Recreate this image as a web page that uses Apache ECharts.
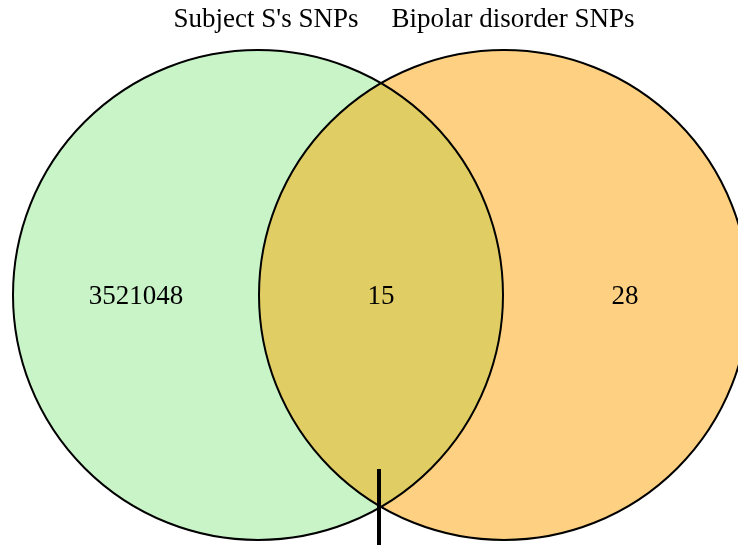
<!DOCTYPE html>
<html>
<head>
<meta charset="utf-8">
<script src="https://cdn.jsdelivr.net/npm/echarts@6/dist/echarts.min.js"></script>
<style>
html, body { margin: 0; padding: 0; background: #fff; }
#venn { width: 738px; height: 545px; }
</style>
</head>
<body>
<div id="venn"></div>
<script>
// sets and region counts
var setNames = ["Subject S's SNPs", "Bipolar disorder SNPs"];
var regionNames = ["left only", "both", "right only"];
var regionCounts = [3521048, 15, 28];

// layout, in the 738 x 545 data space of a hidden cartesian grid
var centersX = [258, 504];
var centerY = 295;
var radius = 245;
var titleX = [266, 513];
var titleY = 20;
var regionX = [136, 381, 625];
var markerX = 379, markerTop = 469;

var fills = ['#c8f4c8', '#fed182'];
var overlapFill = '#e0cd64';
var font = '"Liberation Serif", "DejaVu Serif", serif';

var chart = echarts.init(document.getElementById('venn'));

function renderVenn(params, api) {
    var c0 = api.coord([centersX[0], centerY]);
    var c1 = api.coord([centersX[1], centerY]);
    var r = api.size([radius, 0])[0];
    // intersection points of the two circles
    var d = c1[0] - c0[0];
    var a = d / 2;
    var h = Math.sqrt(r * r - a * a);
    var ix = c0[0] + a;
    var top = [ix, c0[1] - h], bot = [ix, c0[1] + h];
    var lens = 'M' + top[0] + ' ' + top[1] +
        ' A' + r + ' ' + r + ' 0 0 1 ' + bot[0] + ' ' + bot[1] +
        ' A' + r + ' ' + r + ' 0 0 1 ' + top[0] + ' ' + top[1] + ' Z';

    var children = [];
    [c0, c1].forEach(function (c, i) {
        children.push({
            type: 'circle',
            shape: { cx: c[0], cy: c[1], r: r },
            style: { fill: fills[i], stroke: null }
        });
    });
    children.push({
        type: 'path',
        shape: { pathData: lens },
        style: { fill: overlapFill, stroke: null }
    });
    [c0, c1].forEach(function (c) {
        children.push({
            type: 'circle',
            shape: { cx: c[0], cy: c[1], r: r },
            style: { fill: null, stroke: '#000', lineWidth: 2 }
        });
    });
    setNames.forEach(function (name, i) {
        var p = api.coord([titleX[i], titleY]);
        children.push({
            type: 'text',
            x: p[0], y: p[1],
            style: { text: name, fill: '#000', font: '27px ' + font, align: 'center', verticalAlign: 'middle' }
        });
    });
    regionCounts.forEach(function (v, i) {
        var p = api.coord([regionX[i], centerY]);
        children.push({
            type: 'text',
            x: p[0], y: p[1] + 2,
            style: { text: String(v), fill: '#000', font: '27px ' + font, align: 'center', verticalAlign: 'middle' }
        });
    });
    var m0 = api.coord([markerX, markerTop]);
    var m1 = api.coord([markerX, 545]);
    children.push({
        type: 'line',
        shape: { x1: m0[0], y1: m0[1], x2: m1[0], y2: m1[1] },
        style: { stroke: '#000', lineWidth: 4 }
    });
    return { type: 'group', children: children };
}

var option = {
    animation: false,
    grid: { left: 0, right: 0, top: 0, bottom: 0 },
    xAxis: { type: 'value', min: 0, max: 738, show: false },
    yAxis: { type: 'value', min: 0, max: 545, inverse: true, show: false },
    series: [{
        type: 'custom',
        clip: false,
        renderItem: renderVenn,
        data: [[0, 0]]
    }]
};
chart.setOption(option, true);
</script>
</body>
</html>
